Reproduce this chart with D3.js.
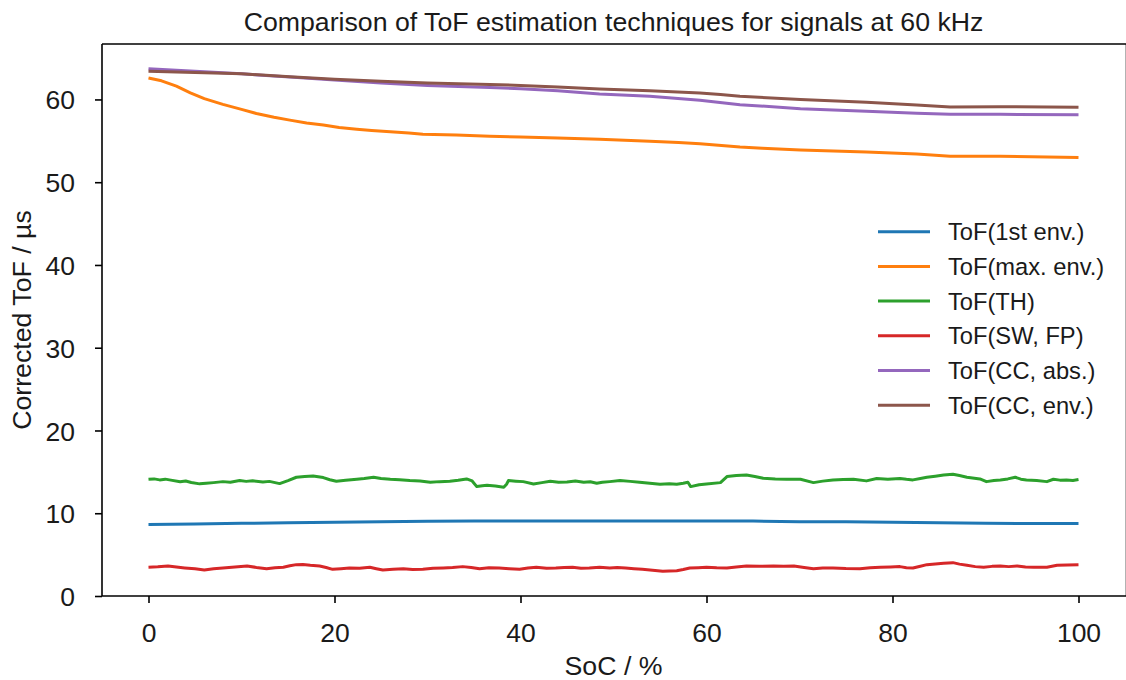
<!DOCTYPE html>
<html>
<head>
<meta charset="utf-8">
<script src="https://cdn.jsdelivr.net/npm/d3@7"></script>
<style>
  body { margin: 0; background: #fff; }
  svg { display: block; font-family: "Liberation Sans", Arial, sans-serif; }
</style>
</head>
<body>
<svg id="chart" width="1126" height="680"></svg>
<script>
// ToF estimates over state of charge, one [SoC %, ToF µs] list per technique
const firstEnv = [[0,8.65],[5,8.7],[10,8.78],[15,8.85],[20,8.92],[25,8.97],[30,9.02],[35,9.05],[40,9.07],[45,9.07],[50,9.07],[55,9.07],[60,9.07],[65,9.05],[70,8.98],[75,8.97],[80,8.9],[85,8.85],[90,8.78],[95,8.76],[100,8.75]];

const maxEnv = [[0,62.6],[1.4,62.25],[3,61.6],[4.5,60.8],[6,60.1],[8,59.4],[10,58.8],[11.6,58.3],[13.5,57.85],[15.2,57.5],[17,57.15],[18.8,56.9],[20.5,56.6],[22.4,56.4],[24,56.25],[26,56.1],[28,55.95],[29.5,55.8],[33.1,55.7],[36.7,55.55],[40,55.45],[44,55.35],[48.5,55.2],[53.9,54.95],[57,54.8],[59.3,54.65],[63.6,54.25],[66,54.1],[70.1,53.9],[77.2,53.65],[82.6,53.4],[86.2,53.15],[91.6,53.15],[100,53.0]];

const threshold = [[0,14.1],[0.6,14.15],[1.2,14.03],[1.8,14.12],[2.4,14.0],[3.4,13.8],[4.0,13.9],[4.6,13.72],[5.5,13.55],[6.2,13.62],[7.0,13.7],[8.0,13.82],[8.8,13.75],[9.8,13.95],[10.5,13.85],[11.2,13.92],[12.3,13.78],[13.0,13.85],[14.1,13.58],[15.0,13.95],[15.9,14.35],[16.8,14.45],[17.7,14.51],[18.8,14.31],[19.5,14.05],[20.2,13.87],[21.2,13.98],[22.4,14.11],[23.2,14.2],[24.2,14.35],[25.0,14.2],[26.0,14.11],[27.0,14.05],[28.1,13.95],[29.2,13.9],[30.3,13.74],[31.3,13.82],[32.4,13.87],[33.3,13.98],[34.2,14.15],[34.8,13.9],[35.3,13.22],[35.9,13.32],[36.4,13.38],[37.3,13.3],[38.2,13.14],[38.5,13.5],[38.7,13.95],[39.5,13.88],[40.3,13.82],[41.4,13.54],[42.3,13.7],[43.2,13.87],[44.1,13.75],[45.0,13.78],[45.9,13.9],[46.8,13.74],[47.5,13.8],[48.2,13.62],[48.8,13.74],[49.6,13.82],[50.7,13.95],[51.8,13.85],[52.8,13.74],[53.9,13.62],[55.0,13.5],[56.0,13.56],[56.8,13.5],[57.5,13.62],[58.0,13.74],[58.3,13.22],[59.2,13.45],[60.0,13.54],[61.5,13.7],[62.2,14.43],[63.2,14.55],[64.3,14.63],[65.2,14.45],[66.1,14.23],[67.4,14.15],[68.6,14.11],[70.1,14.11],[71.5,13.7],[72.5,13.88],[73.6,14.03],[74.7,14.08],[75.8,14.11],[77.2,13.91],[78.3,14.19],[79.5,14.12],[80.8,14.19],[81.5,14.1],[82.2,14.03],[83.0,14.2],[83.7,14.35],[84.6,14.48],[85.5,14.63],[86.5,14.71],[87.2,14.55],[88.0,14.35],[89.4,14.15],[90.1,13.82],[90.9,13.95],[91.6,14.03],[92.4,14.15],[93.2,14.35],[93.8,14.12],[94.4,14.03],[95.5,13.95],[96.6,13.82],[97.3,14.11],[98.0,14.0],[98.7,14.03],[99.4,13.95],[100,14.07]];

const swFp = [[0,3.47],[1.0,3.52],[2.1,3.63],[3.0,3.5],[3.9,3.39],[5.0,3.28],[6.0,3.14],[7.0,3.3],[8.0,3.39],[9.3,3.5],[10.6,3.63],[11.6,3.45],[12.7,3.3],[13.6,3.42],[14.5,3.47],[15.2,3.65],[15.9,3.79],[16.6,3.8],[17.4,3.71],[18.4,3.63],[19.1,3.45],[19.8,3.22],[20.7,3.3],[21.6,3.39],[22.7,3.35],[23.8,3.47],[24.5,3.3],[25.2,3.14],[26.3,3.22],[27.4,3.3],[28.4,3.2],[29.5,3.22],[30.6,3.35],[31.7,3.39],[32.7,3.45],[33.8,3.55],[34.7,3.45],[35.6,3.3],[36.6,3.4],[37.7,3.39],[38.8,3.3],[39.9,3.22],[40.8,3.38],[41.7,3.47],[42.8,3.35],[43.8,3.39],[44.7,3.45],[45.6,3.47],[46.5,3.35],[47.4,3.39],[48.5,3.47],[49.6,3.39],[50.4,3.45],[51.3,3.39],[52.2,3.3],[53.1,3.22],[54.2,3.1],[55.3,2.98],[56.0,3.02],[56.8,3.06],[57.5,3.2],[58.2,3.39],[59.1,3.42],[60.0,3.47],[61.1,3.4],[62.2,3.39],[63.2,3.5],[64.3,3.63],[65.7,3.6],[67.2,3.63],[68.3,3.58],[69.4,3.63],[70.5,3.45],[71.5,3.3],[72.5,3.38],[73.6,3.39],[75.0,3.32],[76.5,3.3],[77.6,3.4],[78.7,3.47],[79.8,3.5],[80.8,3.55],[81.5,3.42],[82.2,3.39],[83.0,3.6],[83.7,3.79],[84.6,3.88],[85.5,3.95],[86.5,4.03],[87.2,3.85],[88.0,3.71],[88.9,3.55],[89.8,3.47],[90.7,3.58],[91.6,3.63],[92.5,3.55],[93.4,3.63],[94.3,3.5],[95.2,3.47],[96.6,3.47],[97.7,3.71],[98.8,3.75],[100,3.79]];

const ccAbs = [[0,63.7],[5,63.4],[10,63.1],[15.2,62.7],[20,62.35],[25,62.0],[30,61.7],[36.7,61.45],[40,61.3],[44,61.05],[48.5,60.67],[53.9,60.38],[59.3,59.89],[63.6,59.37],[70.1,58.89],[77.2,58.56],[82.6,58.32],[86.2,58.2],[91.6,58.2],[100,58.16]];

const ccEnv = [[0,63.4],[5,63.25],[10,63.1],[15.2,62.75],[20,62.45],[25,62.2],[30,62.0],[36.7,61.8],[40,61.7],[44,61.5],[48.5,61.27],[53.9,61.06],[59.3,60.78],[61.5,60.6],[63.6,60.38],[70.1,59.98],[77.2,59.65],[82.6,59.33],[86.2,59.09],[91.6,59.13],[100,59.05]];

const seriesNames = ["ToF(1st env.)", "ToF(max. env.)", "ToF(TH)", "ToF(SW, FP)", "ToF(CC, abs.)", "ToF(CC, env.)"];
const seriesData = [firstEnv, maxEnv, threshold, swFp, ccAbs, ccEnv];
const seriesColors = ["#1f77b4", "#ff7f0e", "#2ca02c", "#d62728", "#9467bd", "#8c564b"];

const xTicks = [0, 20, 40, 60, 80, 100];
const yTicks = [0, 10, 20, 30, 40, 50, 60];

const svg = d3.select("#chart");
const plotLeft = 102, plotRight = 1125, plotTop = 44, plotBottom = 596;

const x = d3.scaleLinear().domain([-5, 105]).range([plotLeft, plotRight]);
const y = d3.scaleLinear().domain([0, 66.7]).range([plotBottom, plotTop]);

const TICK_FONT = 26.5, LABEL_FONT = 26.7, TITLE_FONT = 26.7, LEGEND_FONT = 23.7;
const INK = "#1a1a1a";

// data lines
const line = d3.line().x(d => x(d[0])).y(d => y(d[1]));
const plot = svg.append("g");
seriesData.forEach((s, i) => {
  plot.append("path")
    .datum(s)
    .attr("fill", "none")
    .attr("stroke", seriesColors[i])
    .attr("stroke-width", 3)
    .attr("stroke-linejoin", "round")
    .attr("stroke-linecap", "butt")
    .attr("d", line);
});

// axes
const xAxis = d3.axisBottom(x).tickValues(xTicks).tickSize(7).tickPadding(0).tickFormat(d3.format("d"));
const yAxis = d3.axisLeft(y).tickValues(yTicks).tickSize(7).tickPadding(0).tickFormat(d3.format("d"));

const gx = svg.append("g").attr("transform", `translate(0,${plotBottom})`).call(xAxis);
const gy = svg.append("g").attr("transform", `translate(${plotLeft},0)`).call(yAxis);
[gx, gy].forEach(g => {
  g.select(".domain").remove();
  g.selectAll(".tick line").attr("stroke", "#000").attr("stroke-width", 1.6);
  g.selectAll(".tick text").attr("font-size", TICK_FONT).attr("fill", INK)
    .attr("font-family", "Liberation Sans, Arial, sans-serif");
});
gx.selectAll(".tick text").attr("y", 46).attr("dy", null);
gy.selectAll(".tick text").attr("x", -27).attr("dy", "0.36em");

// spines
const spines = svg.append("g").attr("stroke", "#000").attr("stroke-width", 1.6).attr("fill", "none");
spines.append("line").attr("x1", plotLeft).attr("x2", plotRight + 1).attr("y1", plotBottom).attr("y2", plotBottom);
spines.append("line").attr("x1", plotLeft).attr("x2", plotRight + 1).attr("y1", plotTop).attr("y2", plotTop);
spines.append("line").attr("x1", plotLeft).attr("x2", plotLeft).attr("y1", plotTop).attr("y2", plotBottom);
spines.append("line").attr("x1", plotRight + 1.5).attr("x2", plotRight + 1.5).attr("y1", plotTop).attr("y2", plotBottom);

// title and axis labels
svg.append("text")
  .attr("x", (plotLeft + plotRight) / 2).attr("y", 31)
  .attr("text-anchor", "middle").attr("font-size", TITLE_FONT).attr("fill", INK)
  .text("Comparison of ToF estimation techniques for signals at 60 kHz");

svg.append("text")
  .attr("x", (plotLeft + plotRight) / 2).attr("y", 675)
  .attr("text-anchor", "middle").attr("font-size", LABEL_FONT).attr("fill", INK)
  .text("SoC / %");

svg.append("text")
  .attr("transform", `translate(31,${(plotTop + plotBottom) / 2}) rotate(-90)`)
  .attr("text-anchor", "middle").attr("font-size", LABEL_FONT).attr("fill", INK)
  .text("Corrected ToF / µs");

// legend
const legend = svg.append("g");
seriesNames.forEach((name, i) => {
  const cy = 231.7 + i * 34.7;
  legend.append("line")
    .attr("x1", 878).attr("x2", 930).attr("y1", cy).attr("y2", cy)
    .attr("stroke", seriesColors[i]).attr("stroke-width", 3);
  legend.append("text")
    .attr("x", 948).attr("y", cy + 8.5)
    .attr("font-size", LEGEND_FONT).attr("fill", INK)
    .text(name);
});
</script>
</body>
</html>
